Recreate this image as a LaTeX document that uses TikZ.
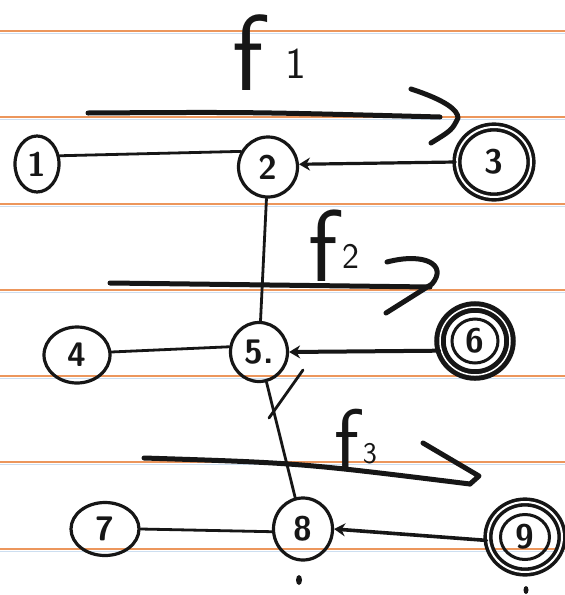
\documentclass[tikz,border=0pt]{standalone}
\usetikzlibrary{arrows.meta,shapes.geometric}
\definecolor{ruleorange}{RGB}{236,150,92}
\definecolor{ruleblue}{RGB}{205,222,240}
\definecolor{ink}{RGB}{22,22,22}
\begin{document}
\begin{tikzpicture}[x=1pt,y=-1pt,
  vert/.style={ellipse, draw=ink, line width=3.2pt, inner sep=0pt,
    text=ink, font=\sffamily\bfseries\fontsize{34}{34}\selectfont},
  edgeline/.style={draw=ink, line width=2.8pt, line cap=round},
  arr/.style={edgeline, -{Stealth[length=11pt,width=13pt]}},
  fstroke/.style={draw=ink, line width=5pt, line cap=round, line join=round},
  flabel/.style={text=ink, inner sep=0pt, anchor=base west, font=\sffamily},
  ruling/.style={draw=ruleorange, line width=2pt},
  blueruling/.style={draw=ruleblue, line width=1.2pt}
]
\fill[white] (0,0) rectangle (565,595);
\useasboundingbox (0,0) rectangle (565,595);
% ruled paper
\foreach \yy in {31,117,203.5,289.5,376,462,548.5}{
  \draw[blueruling] (0,\yy+2.8) -- (565,\yy+2.8);
  \draw[ruling] (0,\yy) -- (565,\yy);
}
% vertices
\node[vert, minimum width=44pt, minimum height=56pt] (n1) at (37,164) {1};
\node[vert, minimum width=59pt, minimum height=60pt] (n2) at (268,167) {2};
\node[vert, minimum width=74pt, minimum height=70pt, line width=3.6pt, double, double distance=2pt] (n3) at (494,162) {3};
\node[vert, minimum width=66pt, minimum height=56pt] (n4) at (77,355) {4};
\node[vert, minimum width=57pt, minimum height=59pt] (n5) at (259,352) {5.};
\node[vert, minimum width=70pt, minimum height=68pt, line width=5pt, double, double distance=1.5pt] (n6) at (475,341) {6};
\node[vert, minimum width=68pt, minimum height=53pt] (n7) at (105,529) {7};
\node[vert, minimum width=59pt, minimum height=62pt] (n8) at (303,529) {8};
\node[vert, minimum width=74pt, minimum height=70pt, line width=3.6pt, double, double distance=2pt] (n9) at (525,537) {9};
\draw[ink, line width=3pt] (n6) ellipse (23pt and 22pt);
\draw[ink, line width=3pt] (n9) ellipse (24.5pt and 22.5pt);
% connectors
\draw[edgeline] (n1.20) -- (n2.150);
\draw[arr, line width=3.2pt] (n3.west) -- (n2.5);
\draw[edgeline] (n2) -- (n5);
\draw[edgeline] (n4.5) -- (n5.170);
\draw[arr, line width=4pt] (n6.195) -- (n5.east);
\draw[edgeline] (n5) -- (n8);
\draw[edgeline] (n7.east) -- (n8.185);
\draw[arr, line width=3.6pt] (n9.185) -- (n8.east);
% tick across 5-8
\coordinate (t1) at (303,370);
\coordinate (t2) at (269,418);
\draw[edgeline] (t1) -- (t2);
% small marks
\fill[ink] (299,580) ellipse (3pt and 5pt);
\fill[ink] (526,590) ellipse (2.5pt and 4pt);
% f labels
\node[flabel] (f1) at (232,90) {\fontsize{108}{108}\selectfont f\hspace{22pt}\fontsize{44}{44}\selectfont\raisebox{12pt}{1}};
\node[flabel] (f2) at (308,281) {\fontsize{102}{102}\selectfont f\hspace{5pt}\fontsize{36}{36}\selectfont\raisebox{13pt}{2}};
\node[flabel] (f3) at (334,469) {\fontsize{86}{86}\selectfont f\hspace{4pt}\fontsize{30}{30}\selectfont\raisebox{6pt}{3}};
% f arrows
\coordinate (a1s) at (88,113);
\coordinate (a1e) at (440,117);
\coordinate (a1h) at (411,89);
\coordinate (a1t) at (458,118);
\coordinate (a1b) at (431,143);
\draw[fstroke] (a1s) .. controls (250,112) .. (a1e);
\draw[fstroke] (a1h) .. controls (445,100) and (458,110) .. (a1t) .. controls (452,130) .. (a1b);
\coordinate (a2s) at (110,283);
\coordinate (a2e) at (430,287);
\coordinate (a2h) at (387,262);
\coordinate (a2b) at (386,313);
\draw[fstroke] (a2s) -- (a2e);
\draw[fstroke] (a2h) .. controls (425,252) and (448,265) .. (432,284) -- (a2b);
\coordinate (a3s) at (144,458);
\coordinate (a3e) at (470,484);
\coordinate (a3h) at (423,443);
\coordinate (a3t) at (479,476);
\draw[fstroke] (a3s) .. controls (300,463) .. (a3e);
\draw[fstroke] (a3h) -- (a3t) -- (a3e);
\end{tikzpicture}
\end{document}
